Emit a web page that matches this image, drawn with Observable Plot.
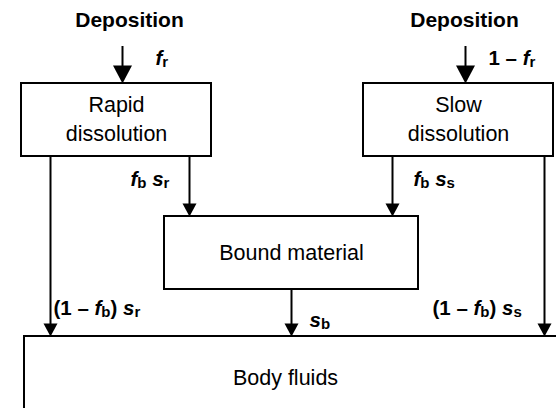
<!DOCTYPE html>
<html><head><meta charset="utf-8">
<script src="https://cdn.jsdelivr.net/npm/d3@7"></script>
<script src="https://cdn.jsdelivr.net/npm/@observablehq/plot@0.6"></script>
<style>html,body{margin:0;padding:0;background:#fff} svg{display:block}</style>
</head><body><div id="chart"></div>
<script>
// Diagram content (compartment model), coordinates in picture pixels
const boxNames = ["Rapid\ndissolution", "Slow\ndissolution", "Bound material", "Body fluids"];
const boxX1 = [21, 363, 164, 24];
const boxX2 = [211, 553, 418, 560];
const boxY1 = [83, 83, 216, 336];
const boxY2 = [156, 156, 289, 420];
const boxTextX = [116, 458, 291, 285];
const boxTextY = [117, 117, 250, 375];

const headings = ["Deposition", "Deposition"];
const headingX = [129, 464];
const headingY = [20, 20];

// flows: vertical arrows (x, start y, end y, head type)
const flowX = [122, 465, 50, 189, 392, 544, 291];
const flowY1 = [46, 46, 156, 156, 156, 156, 289];
const flowY2 = [83, 83, 336, 216, 216, 336, 336];
const flowHead = ["big", "big", "small", "small", "small", "small", "small"];

// flow labels: *x* = italic, _c = subscript
const labelText = ["*f*_r", "1 – *f*_r", "*f*_b *s*_r", "*f*_b *s*_s", "(1 – *f*_b) *s*_r", "*s*_b", "(1 – *f*_b) *s*_s"];
const labelX = [155, 488, 130, 413, 53, 309, 432];
const labelY = [58, 58, 179, 179, 308, 320, 308];

const boxes = boxNames.map((name, i) => ({name, x1: boxX1[i], x2: boxX2[i], y1: boxY1[i], y2: boxY2[i], tx: boxTextX[i], ty: boxTextY[i]}));
const heads = headings.map((t, i) => ({t, x: headingX[i], y: headingY[i]}));
const headSize = {big: [19, 18], small: [14, 13]};
const flows = flowX.map((x, i) => ({x, y1: flowY1[i], y2: flowY2[i], head: flowHead[i], yl: flowY2[i] - headSize[flowHead[i]][1] + 1}));
const labels = labelText.map((t, i) => ({t, x: labelX[i], y: labelY[i]}));

function headSymbol([w, h]) {
  return {draw(ctx) { ctx.moveTo(0, 0); ctx.lineTo(-w / 2, -h); ctx.lineTo(w / 2, -h); ctx.closePath(); }};
}

const font = "'Liberation Sans', Arial, Helvetica, sans-serif";
const plot = Plot.plot({
  width: 556, height: 408, margin: 0,
  x: {domain: [0, 556], range: [0, 556], axis: null},
  y: {domain: [0, 408], range: [0, 408], axis: null},
  style: {fontFamily: font, background: "white", color: "black"},
  marks: [
    Plot.rect(boxes, {x1: "x1", x2: "x2", y1: "y1", y2: "y2", fill: "white", stroke: "black", strokeWidth: 2}),
    Plot.text(boxes, {x: "tx", y: "ty", text: "name", fontSize: 21.5, lineHeight: 1.32, fill: "black"}),
    Plot.text(heads, {x: "x", y: "y", text: "t", fontSize: 21, fontWeight: "bold", fill: "black"}),
    Plot.ruleX(flows, {x: "x", y1: "y1", y2: "yl", stroke: "black", strokeWidth: 2}),
    Plot.dot(flows.filter(d => d.head === "big"), {x: "x", y: "y2", r: 1, symbol: headSymbol(headSize.big), fill: "black", stroke: "none"}),
    Plot.dot(flows.filter(d => d.head === "small"), {x: "x", y: "y2", r: 1, symbol: headSymbol(headSize.small), fill: "black", stroke: "none"}),
    Plot.text(labels, {x: "x", y: "y", text: "t", textAnchor: "start", fontSize: 20.5, fontWeight: "bold", fill: "black"})
  ]
});
document.getElementById("chart").appendChild(plot);

// rich text: italic and subscripts
const NS = "http://www.w3.org/2000/svg";
plot.querySelectorAll("text").forEach(el => {
  const s = el.textContent;
  if (!/[*_]/.test(s)) return;
  while (el.firstChild) el.removeChild(el.firstChild);
  const segs = [];
  let italic = false;
  for (let i = 0; i < s.length; i++) {
    let c = s[i];
    if (c === "*") { italic = !italic; continue; }
    let sub = false;
    if (c === "_") { sub = true; c = s[++i]; }
    const last = segs[segs.length - 1];
    if (last && !sub && !last.sub && last.italic === italic) last.text += c;
    else segs.push({text: c, italic: italic && !sub, sub});
  }
  let shift = 0;
  for (const seg of segs) {
    const t = document.createElementNS(NS, "tspan");
    t.textContent = seg.text;
    if (seg.italic) t.setAttribute("font-style", "italic");
    if (seg.sub) t.setAttribute("font-size", 15);
    const want = seg.sub ? 2 : 0;
    if (want !== shift) { t.setAttribute("dy", want - shift); shift = want; }
    el.appendChild(t);
  }
});
</script>
</body></html>
